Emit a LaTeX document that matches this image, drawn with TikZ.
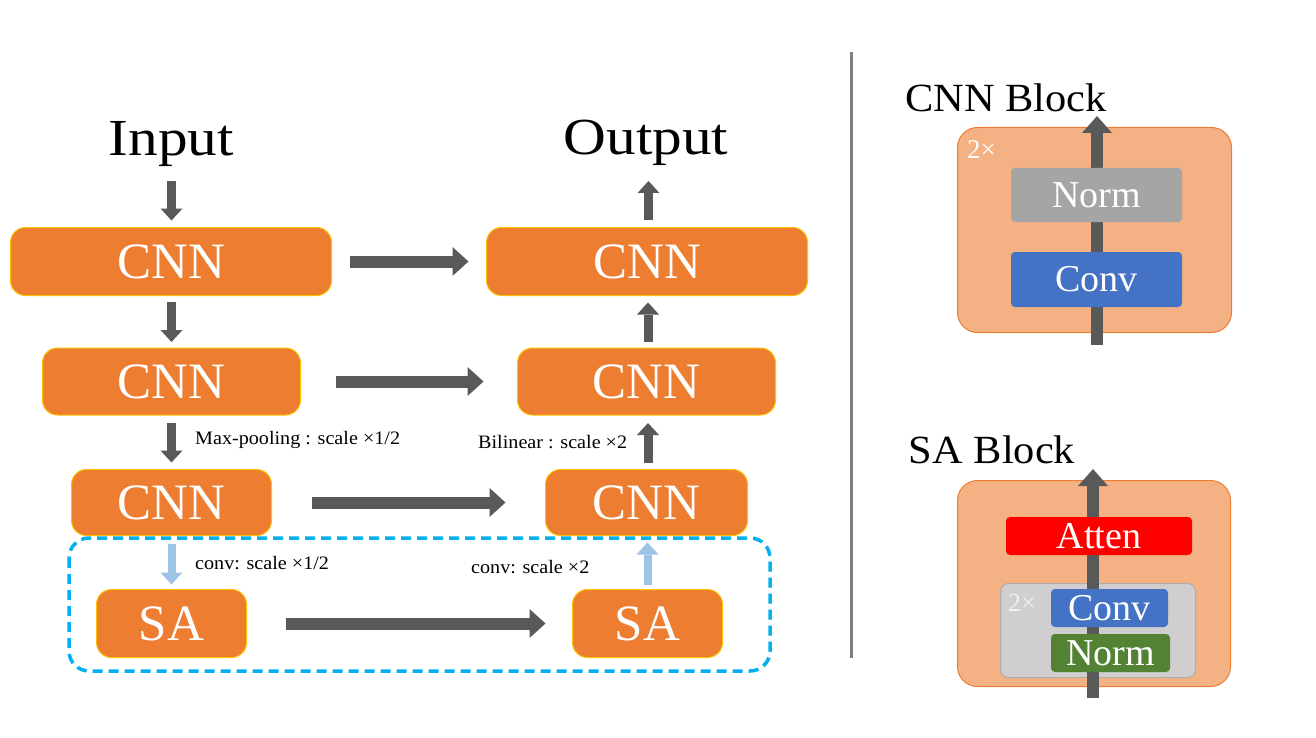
\documentclass[tikz,border=0pt]{standalone}
\usepackage{fontspec}
\setmainfont{Liberation Serif}
\newfontfamily\widefont{Liberation Serif}[FakeStretch=1.14]
\newfontfamily\labelfont{Liberation Serif}[FakeStretch=1.06]
\usetikzlibrary{arrows.meta,calc}
\definecolor{orangeA}{HTML}{ED7D31}
\definecolor{goldE}{HTML}{FFC000}
\definecolor{darkA}{HTML}{595959}
\definecolor{lightB}{HTML}{9DC3E6}
\definecolor{cyanD}{HTML}{00B0F0}
\definecolor{peach}{HTML}{F4B183}
\definecolor{greyN}{HTML}{A5A5A5}
\definecolor{blueC}{HTML}{4472C4}
\definecolor{greenN}{HTML}{548235}
\definecolor{greyBox}{HTML}{D0CECE}
\definecolor{greyEdge}{HTML}{AFABAB}
\definecolor{divider}{HTML}{7F7F7F}
\definecolor{offwhite}{HTML}{F2F2F2}
\tikzset{
  bigbox/.style={draw=goldE, line width=1pt, fill=orangeA, rounded corners=15pt,
    text=white, font=\fontsize{51}{60}\selectfont, inner sep=0pt, outer sep=0pt},
  title/.style={font=\widefont\fontsize{52}{60}\selectfont, inner sep=0pt, anchor=base},
  blocktitle/.style={font=\labelfont\fontsize{40}{48}\selectfont, inner sep=0pt, anchor=base},
  smalllabel/.style={font=\labelfont\fontsize{19}{22}\selectfont, inner sep=0pt, anchor=west},
  varrow/.style={draw=darkA, line width=9pt, -{Triangle[width=22pt,length=12pt,line width=0pt]}},
  lbarrow/.style={draw=lightB, line width=8pt, -{Triangle[width=22pt,length=12pt,line width=0pt]}},
  harrow/.style={draw=darkA, line width=12pt, -{Triangle[width=29pt,length=16pt,line width=0pt]}},
  blkarrow/.style={draw=darkA, line width=12pt, -{Triangle[width=30pt,length=17pt,line width=0pt]}},
  outerblk/.style={draw=orangeA, line width=1pt, fill=peach, rounded corners=20pt, inner sep=0pt},
  inbox/.style={rounded corners=4pt, inner sep=0pt, text=white, font=\fontsize{38}{44}\selectfont},
  twox/.style={inner sep=0pt, font=\fontsize{27}{30}\selectfont}
}
\begin{document}
\begin{tikzpicture}[x=1pt,y=-1pt]
\useasboundingbox (0,0) rectangle (1316,738);

% titles
\node[title] (inp) at (171.5,156) {Input};
\node[title] (outp) at (646,155) {Output};

% left column
\node[bigbox, minimum width=321pt, minimum height=68pt] (cnnA) at (171,261.5) {CNN};
\node[bigbox, minimum width=258pt, minimum height=67pt] (cnnB) at (171.5,381.5) {CNN};
\node[bigbox, minimum width=200pt, minimum height=66pt] (cnnC) at (171.5,502.5) {CNN};
\node[bigbox, minimum width=150pt, minimum height=68pt] (saL) at (171.5,623.5) {SA};
% right column
\node[bigbox, minimum width=321pt, minimum height=68pt] (cnnD) at (647,261.5) {CNN};
\node[bigbox, minimum width=258pt, minimum height=67pt] (cnnE) at (646.5,381.5) {CNN};
\node[bigbox, minimum width=202pt, minimum height=66pt] (cnnF) at (646.5,502.5) {CNN};
\node[bigbox, minimum width=150pt, minimum height=68pt] (saR) at (647.5,623.5) {SA};

% free ends
\coordinate (inTop) at (171.5,181);
\coordinate (outTop) at (648.5,181);

% vertical arrows left
\draw[varrow, shorten >=7pt] (inTop) -- (inTop |- cnnA.north);
\draw[varrow, shorten <=6pt, shorten >=6pt] (cnnA.south -| cnnB.north) -- (cnnB.north);
\draw[varrow, shorten <=8pt, shorten >=7pt] (cnnB.south) -- (cnnC.north);
\draw[lbarrow, shorten <=8pt, shorten >=5pt] (cnnC.south) -- (saL.north);
% vertical arrows right
\draw[lbarrow, shorten <=5pt, shorten >=7pt] (saR.north) -- (saR.north |- cnnF.south);
\draw[varrow, shorten <=7pt, shorten >=8pt] ($(cnnF.north)+(1.5,0)$) -- ($(cnnE.south)+(1.5,0)$);
\draw[varrow, shorten <=6pt, shorten >=7pt] ($(cnnE.north)+(1.5,0)$) -- ($(cnnE.north |- cnnD.south)+(1.5,0)$);
\draw[varrow, shorten <=8pt] (outTop |- cnnD.north) -- (outTop);

% horizontal arrows
\draw[harrow, shorten <=18pt, shorten >=18pt] (cnnA.east) -- (cnnD.west);
\draw[harrow, shorten <=35pt, shorten >=34pt] (cnnB.east) -- (cnnE.west);
\draw[harrow, shorten <=40pt, shorten >=40pt] (cnnC.east) -- (cnnF.west);
\draw[harrow, shorten <=39pt, shorten >=27pt] (saL.east) -- (saR.west);

% labels
\node[smalllabel] (lmp) at (195,440) {Max-pooling : scale ×1/2};
\node[smalllabel] (lbl) at (478,442) {Bilinear : scale ×2};
\node[smalllabel] (lc1) at (195,563) {conv: scale ×1/2};
\node[smalllabel] (lc2) at (471,567) {conv: scale ×2};

% dashed group frame
\draw[cyanD, line width=3.5pt, dash pattern=on 10pt off 6pt, rounded corners=20pt]
  (69,538) rectangle (770,671);

% divider
\draw[divider, line width=3pt] (851,52) -- (851,658);

% CNN block
\node[blocktitle] (cbt) at (1006,112) {CNN Block};
\node[outerblk, minimum width=274pt, minimum height=205pt] (cblk) at (1094.5,230) {};
\coordinate (cArrB) at (1097,345);
\coordinate (cArrT) at (1097,116);
\draw[blkarrow] (cArrB) -- (cArrT);
\node[twox, text=white, anchor=west] (c2x) at (967,150) {2×};
\node[inbox, fill=greyN, minimum width=171pt, minimum height=54pt] (cnorm) at (1096.5,195) {Norm};
\node[inbox, fill=blueC, minimum width=171pt, minimum height=55pt] (cconv) at (1096.5,279.5) {Conv};

% SA block
\node[blocktitle] (sbt) at (992,463) {SA Block};
\node[outerblk, minimum width=273pt, minimum height=206pt] (sblk) at (1094,583.5) {};
\node[draw=greyEdge, line width=1pt, fill=greyBox, rounded corners=8pt, inner sep=0pt,
      minimum width=195pt, minimum height=94pt] (sgrey) at (1098,630.5) {};
\coordinate (sArrB) at (1093,698);
\coordinate (sArrT) at (1093,469);
\draw[blkarrow] (sArrB) -- (sArrT);
\node[inbox, fill=red, minimum width=186pt, minimum height=38pt] (satt) at (1099,536) {Atten};
\node[twox, text=offwhite, font=\fontsize{26}{30}\selectfont] (s2x) at (1022,603) {2×};
\node[inbox, fill=blueC, minimum width=117pt, minimum height=38pt] (sconv) at (1109.5,608) {Conv};
\node[inbox, fill=greenN, minimum width=119pt, minimum height=38pt] (snorm) at (1110.5,653) {Norm};
\end{tikzpicture}
\end{document}
